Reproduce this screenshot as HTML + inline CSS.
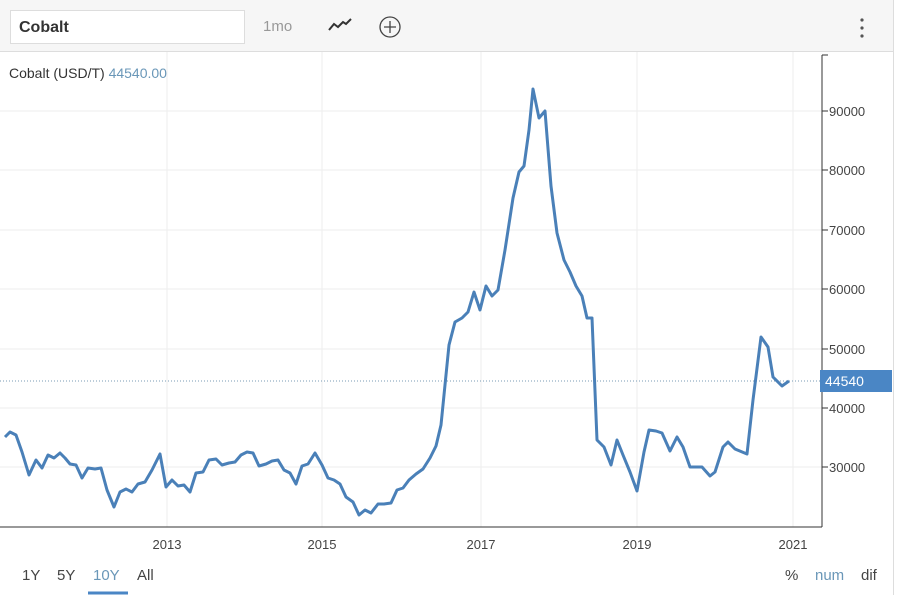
<!DOCTYPE html>
<html><head><style>
body{margin:0;width:900px;height:595px;background:#fff;font-family:"Liberation Sans",sans-serif;overflow:hidden;position:relative}
.top{position:absolute;left:0;top:0;width:893px;height:51px;background:#f6f6f6;border-bottom:1px solid #ddd}
.inp{position:absolute;left:10px;top:10px;width:235px;height:34px;background:#fff;border:1px solid #ddd;box-sizing:border-box;font-weight:bold;font-size:16px;color:#333;padding:8px 8px}
.t{position:absolute;font-size:14px;color:#333}
</style></head><body>
<div class="top"><div class="inp">Cobalt</div>
<div class="t" style="left:263px;top:18px;color:#999;font-size:15px">1mo</div>
<svg style="position:absolute;left:328px;top:18px" width="24" height="14"><polyline points="1,12 6,6 10,9 15,4 18,6 23,1" fill="none" stroke="#333" stroke-width="2"/></svg>
<svg style="position:absolute;left:378px;top:15px" width="24" height="24"><circle cx="12" cy="12" r="10" fill="none" stroke="#444" stroke-width="1.3"/><path d="M12 6v12M6 12h12" stroke="#444" stroke-width="1.3"/></svg>
<svg style="position:absolute;left:858px;top:16px" width="8" height="24"><circle cx="4" cy="4" r="1.6" fill="#555"/><circle cx="4" cy="12" r="1.6" fill="#555"/><circle cx="4" cy="20" r="1.6" fill="#555"/></svg>
</div>
<div style="position:absolute;left:893px;top:0;width:1px;height:595px;background:#ddd"></div>
<div class="t" style="left:9px;top:65px">Cobalt (USD/T) <span style="color:#6a97b8">44540.00</span></div>
<svg style="position:absolute;left:0;top:0" width="900" height="595">
<g stroke="#eee" stroke-width="1">
<line x1="0" y1="111" x2="822" y2="111"/><line x1="0" y1="170" x2="822" y2="170"/><line x1="0" y1="230" x2="822" y2="230"/><line x1="0" y1="289" x2="822" y2="289"/><line x1="0" y1="349" x2="822" y2="349"/><line x1="0" y1="408" x2="822" y2="408"/><line x1="0" y1="467" x2="822" y2="467"/>
<line x1="167" y1="52" x2="167" y2="527"/><line x1="322" y1="52" x2="322" y2="527"/><line x1="481" y1="52" x2="481" y2="527"/><line x1="637" y1="52" x2="637" y2="527"/><line x1="793" y1="52" x2="793" y2="527"/>
</g>
<line x1="0" y1="381" x2="822" y2="381" stroke="#7a9bb5" stroke-dasharray="1,2"/>
<line x1="822" y1="55" x2="822" y2="527" stroke="#333"/>
<line x1="0" y1="527" x2="822" y2="527" stroke="#333"/>
<g stroke="#333"><line x1="822" y1="111" x2="828" y2="111"/><line x1="822" y1="170" x2="828" y2="170"/><line x1="822" y1="230" x2="828" y2="230"/><line x1="822" y1="289" x2="828" y2="289"/><line x1="822" y1="349" x2="828" y2="349"/><line x1="822" y1="408" x2="828" y2="408"/><line x1="822" y1="467" x2="828" y2="467"/><line x1="822" y1="55" x2="828" y2="55"/></g>
<g font-size="13" fill="#444" font-family="Liberation Sans">
<text x="829" y="116">90000</text><text x="829" y="175">80000</text><text x="829" y="235">70000</text><text x="829" y="294">60000</text><text x="829" y="354">50000</text><text x="829" y="413">40000</text><text x="829" y="472">30000</text>
<text x="167" y="549" text-anchor="middle">2013</text><text x="322" y="549" text-anchor="middle">2015</text><text x="481" y="549" text-anchor="middle">2017</text><text x="637" y="549" text-anchor="middle">2019</text><text x="793" y="549" text-anchor="middle">2021</text>
</g>
<rect x="820" y="370" width="72" height="22" fill="#4a86c5"/>
<text x="825" y="386" font-size="14" fill="#fff" font-family="Liberation Sans">44540</text>
<polyline fill="none" stroke="#4a80b8" stroke-width="3" stroke-linejoin="round" points="5,437 10,432 16,435 22,452 29,475 36,460 42,468 48,455 54,458 60,453 65,458 70,464 76,465 82,478 88,468 95,469 101,468 107,490 114,507 120,492 126,489 132,492 138,484 145,482 152,470 160,454 166,487 172,480 178,486 184,485 190,492 196,473 203,472 209,460 216,459 222,465 229,463 235,462 241,455 247,452 253,453 259,466 266,464 272,461 278,460 284,470 290,473 296,484 302,466 308,464 315,453 322,465 328,478 334,480 340,484 346,497 353,502 359,515 365,510 371,513 378,504 384,504 391,503 397,490 403,488 409,480 416,474 423,469 430,458 436,446 441,425 446,375 449,345 455,322 462,318 468,312 474,292 480,310 486,286 492,296 498,290 505,250 513,198 519,172 524,166 529,130 533,89 539,118 545,111 551,186 557,233 564,260 570,272 576,286 582,296 587,318 592,318 597,440 604,447 611,465 617,440 623,455 630,472 637,491 644,452 649,430 656,431 662,433 670,451 677,437 683,447 690,467 702,467 710,476 715,472 723,447 728,442 735,449 747,454 753,400 761,337 768,347 773,377 782,386 789,381"/>
<g font-size="15" font-family="Liberation Sans">
<text x="22" y="580" fill="#444">1Y</text><text x="57" y="580" fill="#444">5Y</text><text x="93" y="580" fill="#6a97b8">10Y</text><text x="137" y="580" fill="#444">All</text>
<text x="785" y="580" fill="#444">%</text><text x="815" y="580" fill="#6a97b8">num</text><text x="861" y="580" fill="#444">dif</text>
</g>
<line x1="88" y1="593" x2="128" y2="593" stroke="#4a86c5" stroke-width="3"/>
</svg>
</body></html>
